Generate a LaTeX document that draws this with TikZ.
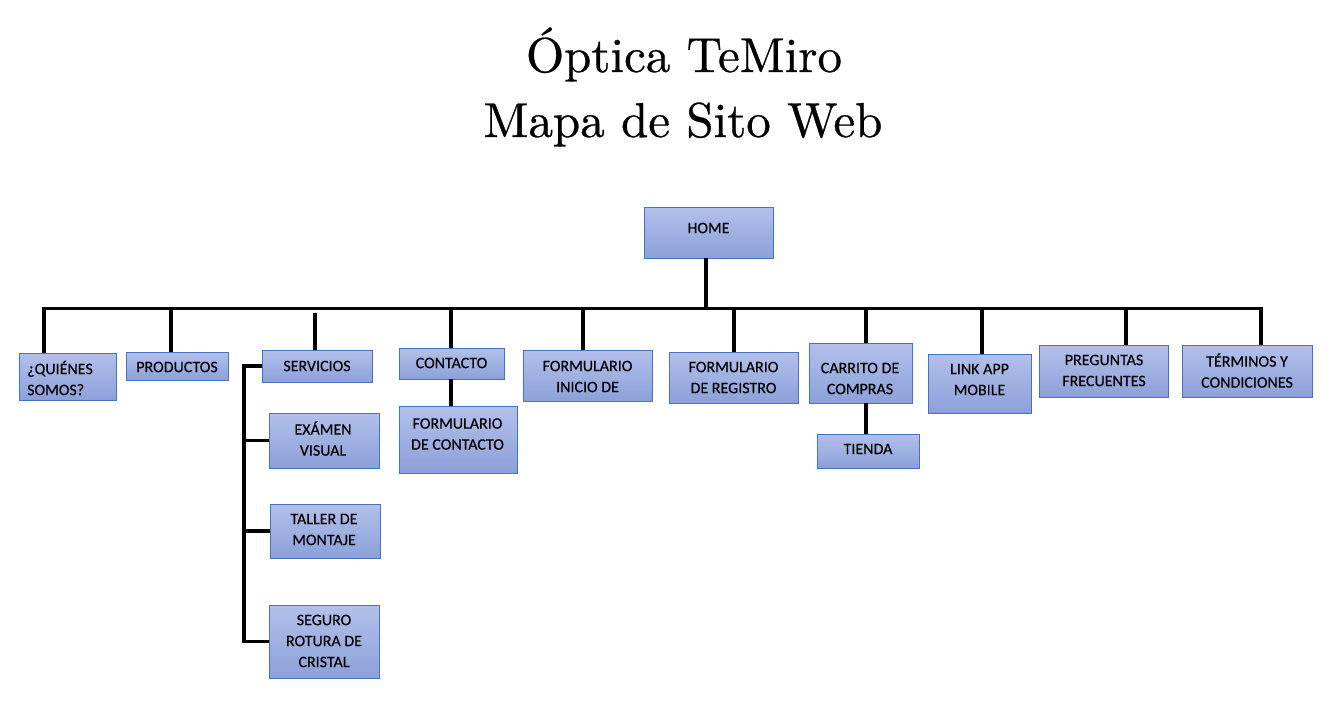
\documentclass[tikz,border=0pt]{standalone}
\usepackage{fontspec}
\newfontfamily\boxfont{Carlito}[FakeBold=0.3]
\newfontfamily\titlefont{lmroman10-regular.otf}[FakeBold=0.6]
\definecolor{boxtop}{RGB}{178,192,234}
\definecolor{boxbot}{RGB}{140,160,217}
\definecolor{boxedge}{RGB}{68,114,196}
\tikzset{
  pagebox/.style={draw=boxedge, line width=0.9pt, top color=boxtop, bottom color=boxbot, inner sep=0pt},
  boxtext/.style={font=\boxfont\fontsize{16}{21}\selectfont, align=center, inner sep=0pt, text=black},
  link/.style={line width=3.4pt, black},
  titletext/.style={font=\titlefont\fontsize{49}{58}\selectfont, anchor=base, inner sep=0pt},
}
\newcommand\mkbox[5]{%
  \node[pagebox, minimum width={(#4-#2)*1pt}, minimum height={(#5-#3)*1pt}]
    (#1) at ({(#2+#4)/2},{(#3+#5)/2}) {};}
\begin{document}
\begin{tikzpicture}[x=1pt,y=-1pt]
\useasboundingbox (0,0) rectangle (1327,724);
\fill[white] (0,0) rectangle (1327,724);

% title
\node[titletext] (title1) at (684,72) {Óptica TeMiro};
\node[titletext] (title2) at (683,137) {Mapa de Sito Web};

% boxes
\mkbox{home}{644}{207}{773}{258}
\mkbox{quienes}{19}{353}{116}{400}
\mkbox{productos}{126}{352}{228}{380}
\mkbox{servicios}{262}{350}{372}{382}
\mkbox{examen}{269}{413}{379}{468}
\mkbox{taller}{270}{504}{380}{558}
\mkbox{seguro}{269}{605}{379}{678}
\mkbox{contacto}{399}{348}{504}{379}
\mkbox{fcontacto}{399}{406}{517}{473}
\mkbox{finicio}{523}{350}{652}{401}
\mkbox{fregistro}{669}{352}{798}{403}
\mkbox{carrito}{809}{343}{912}{403}
\mkbox{tienda}{817}{434}{919}{468}
\mkbox{link}{928}{354}{1031}{413}
\mkbox{preguntas}{1039}{345}{1168}{397}
\mkbox{terminos}{1182}{345}{1312}{397}

% texts
\node[boxtext] (home-t) at (708.5,228) {HOME};
\node[boxtext, align=left, anchor=west] (quienes-t) at (27,378) {¿QUIÉNES\\SOMOS?};
\node[boxtext] (productos-t) at (177,367) {PRODUCTOS};
\node[boxtext] (servicios-t) at (317,366) {SERVICIOS};
\node[boxtext] (examen-t) at (323,438.5) {EXÁMEN\\VISUAL};
\node[boxtext] (taller-t) at (324,529.5) {TALLER DE\\MONTAJE};
\node[boxtext] (seguro-t) at (324,641) {SEGURO\\ROTURA DE\\CRISTAL};
\node[boxtext] (contacto-t) at (451.5,363) {CONTACTO};
\node[boxtext] (fcontacto-t) at (457.5,434) {FORMULARIO\\DE CONTACTO};
\node[boxtext] (finicio-t) at (587.5,376.5) {FORMULARIO\\INICIO DE};
\node[boxtext] (fregistro-t) at (733.5,377.5) {FORMULARIO\\DE REGISTRO};
\node[boxtext] (carrito-t) at (860,378.5) {CARRITO DE\\COMPRAS};
\node[boxtext] (tienda-t) at (868,449) {TIENDA};
\node[boxtext] (link-t) at (979.5,379.5) {LINK APP\\MOBILE};
\node[boxtext] (preguntas-t) at (1104,370.5) {PREGUNTAS\\FRECUENTES};
\node[boxtext] (terminos-t) at (1247,370.5) {TÉRMINOS Y\\CONDICIONES};

% bus coordinates
\coordinate (bh) at (706,308.5);
\coordinate (bq) at (44,308.5);
\coordinate (bp) at (171,308.5);
\coordinate (bs) at (315,313);
\coordinate (bc0) at (451,308.5);
\coordinate (bf) at (583,308.5);
\coordinate (br) at (734,308.5);
\coordinate (bca) at (866,308.5);
\coordinate (bl) at (982,308.5);
\coordinate (bpr) at (1126,308.5);
\coordinate (bt) at (1261,308.5);
\coordinate (sv) at (244,366);

% connectors
\draw[link] (bh |- home.south) -- (bh);
\draw[link] (bq |- quienes.north) -- (bq) -- (bt) -- (bt |- terminos.north);
\draw[link] (bp) -- (bp |- productos.north);
\draw[link] (bs) -- (bs |- servicios.north);
\draw[link] (bc0) -- (bc0 |- contacto.north);
\draw[link] (bf) -- (bf |- finicio.north);
\draw[link] (br) -- (br |- fregistro.north);
\draw[link] (bca) -- (bca |- carrito.north);
\draw[link] (bl) -- (bl |- link.north);
\draw[link] (bpr) -- (bpr |- preguntas.north);
\draw[link] (bc0 |- contacto.south) -- (bc0 |- fcontacto.north);
\draw[link] (bca |- carrito.south) -- (bca |- tienda.north);
\draw[link] (servicios.west) -- (sv) -- (sv |- seguro.west) -- (seguro.west);
\draw[link] (sv |- examen.west) -- (examen.west);
\draw[link] (sv |- taller.west) -- (taller.west);
\end{tikzpicture}
\end{document}
